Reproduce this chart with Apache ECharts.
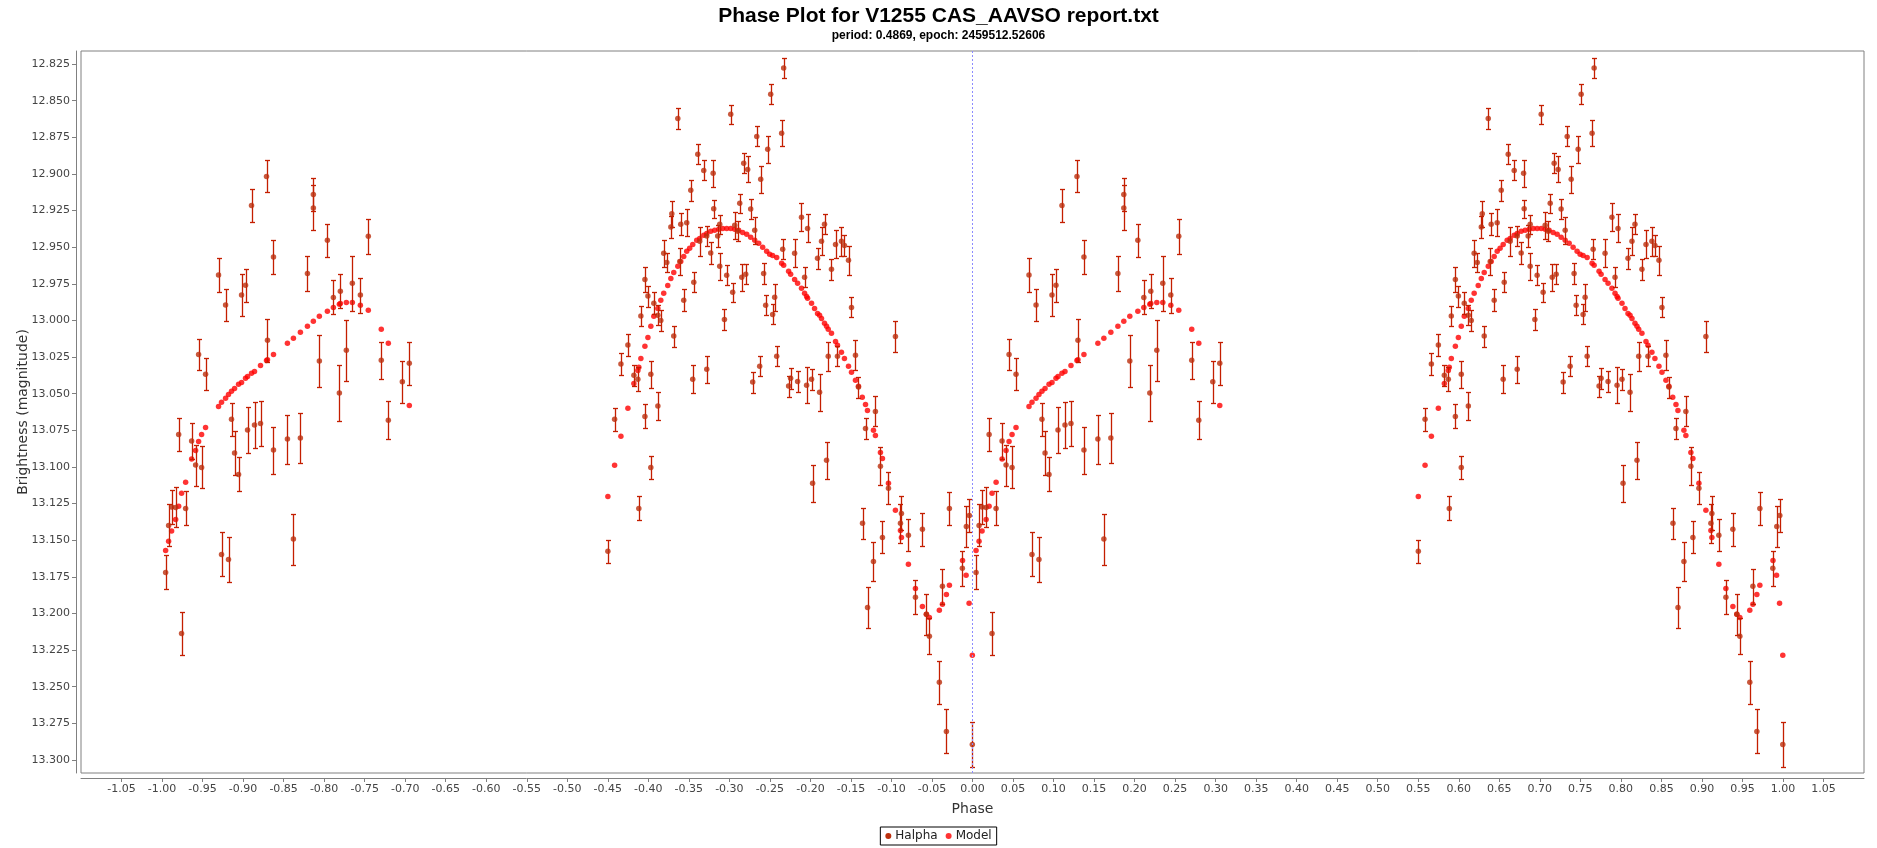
<!DOCTYPE html>
<html>
<head>
<meta charset="utf-8">
<script src="https://cdn.jsdelivr.net/npm/echarts@6/dist/echarts.min.js"></script>
<style>
html,body{margin:0;padding:0;background:#fff;}
#chart{width:1877px;height:848px;}
</style>
</head>
<body>
<div id="chart"></div>
<script>
// ---- Halpha observations (base phase in [0,1), magnitude, error) ----
const halphaPhase = [
0.0044,0.0081,0.0118,0.0168,0.0205,0.0241,0.0291,0.0365,0.0414,0.0451,0.0488,0.0537,
0.0697,0.0734,0.0784,0.0820,0.0857,0.0895,0.0944,0.0981,0.1030,0.1055,0.1104,0.1141,
0.1215,0.1289,0.1301,0.1375,0.1375,0.1547,0.1621,0.1707,0.1794,0.1867,0.1867,0.1941,
0.2040,0.2114,0.2188,0.2200,0.2274,0.2348,0.2447,0.2545,0.2705,0.2792,0.2965,0.3051,
0.5501,0.5584,0.5662,0.5748,0.5822,0.5871,0.5883,0.5908,0.5958,0.5958,0.5995,0.6031,
0.6031,0.6068,0.6118,0.6118,0.6154,0.6190,0.6228,0.6278,0.6290,0.6314,0.6364,0.6388,
0.6400,0.6437,0.6474,0.6524,0.6548,0.6561,0.6610,0.6634,0.6684,0.6721,0.6721,0.6770,
0.6800,0.6807,0.6856,0.6881,0.6881,0.6939,0.6967,0.7017,0.7041,0.7066,0.7103,0.7128,
0.7153,0.7177,0.7202,0.7226,0.7263,0.7288,0.7313,0.7338,0.7374,0.7387,0.7423,0.7448,
0.7473,0.7510,0.7534,0.7559,0.7584,0.7645,0.7658,0.7670,0.7731,0.7756,0.7805,0.7842,
0.7890,0.7928,0.7953,0.7965,0.8014,0.8027,0.8088,0.8113,0.8137,0.8174,0.8199,0.8220,
0.8260,0.8310,0.8334,0.8383,0.8420,0.8470,0.8507,0.8556,0.8593,0.8643,0.8680,0.8705,
0.8778,0.8802,0.8864,0.8889,0.8963,0.9049,0.9111,0.9123,0.9209,0.9296,0.9382,0.9431,
0.9468,0.9591,0.9629,0.9678,0.9715,0.9875,0.9924,0.9961,0.9998
];
const halphaMag = [
13.1720,13.1399,13.1274,13.1276,13.0778,13.2136,13.1283,13.0823,13.0987,13.0232,13.1003,13.0368,
12.9690,13.1597,12.9895,13.1631,13.0675,13.0905,13.1051,12.9827,12.9760,13.0748,12.9215,13.0714,
13.0703,12.9017,13.0136,12.9567,13.0885,13.0810,13.1492,13.0803,12.9679,12.9140,12.9232,13.0277,
12.9453,12.9843,13.0496,12.9800,13.0204,12.9747,12.9827,12.9426,13.0272,13.0682,13.0419,13.0293,
13.1576,13.0675,13.0298,13.0168,13.0375,13.0402,13.1283,12.9970,12.9720,13.0655,12.9834,13.0368,
13.1003,12.9883,13.0584,12.9965,13.0000,12.9542,12.9604,12.9363,12.9272,13.0107,12.8621,12.9597,
12.9344,12.9863,12.9333,12.9112,13.0402,12.9740,12.8866,12.9460,12.8976,13.0334,12.9424,12.9540,
12.8996,12.9238,12.9424,12.9344,12.9631,12.9993,12.9692,12.8593,12.9808,12.9351,12.9392,12.9201,
12.9706,12.8928,12.9685,12.8969,12.9240,13.0421,12.9385,12.8744,13.0313,12.9037,12.9679,12.9897,
12.8832,12.8457,12.9959,12.9842,13.0245,12.8723,12.9515,12.8277,13.0448,13.0395,12.9542,13.0416,
12.9296,12.9706,13.0443,12.9372,13.0402,13.1112,12.9576,13.0491,12.9460,12.9344,13.0955,13.0245,
12.9651,12.9481,13.0245,12.9460,12.9488,12.9590,12.9911,13.0238,13.0455,13.1385,13.0737,13.1959,
13.1645,13.0621,13.0996,13.1481,13.1146,13.0109,13.1385,13.1317,13.1467,13.1890,13.1426,13.2006,
13.2156,13.2470,13.1815,13.2805,13.1283,13.1692,13.1406,13.1331,13.2894
];
const halphaErr = [
0.0116,0.0143,0.0116,0.0137,0.0113,0.0147,0.0116,0.0120,0.0140,0.0107,0.0143,0.0110,
0.0113,0.0150,0.0108,0.0154,0.0114,0.0150,0.0116,0.0143,0.0113,0.0154,0.0110,0.0154,
0.0154,0.0109,0.0147,0.0113,0.0160,0.0167,0.0174,0.0170,0.0118,0.0110,0.0154,0.0177,
0.0113,0.0116,0.0191,0.0116,0.0208,0.0188,0.0120,0.0120,0.0126,0.0130,0.0143,0.0147,
0.0078,0.0078,0.0074,0.0075,0.0072,0.0082,0.0082,0.0070,0.0088,0.0082,0.0072,0.0092,
0.0079,0.0074,0.0094,0.0067,0.0070,0.0092,0.0067,0.0075,0.0089,0.0072,0.0072,0.0091,
0.0075,0.0075,0.0091,0.0072,0.0096,0.0068,0.0068,0.0098,0.0068,0.0092,0.0068,0.0072,
0.0092,0.0063,0.0073,0.0066,0.0092,0.0072,0.0067,0.0065,0.0065,0.0092,0.0068,0.0065,
0.0091,0.0068,0.0068,0.0089,0.0070,0.0072,0.0092,0.0068,0.0068,0.0090,0.0072,0.0068,
0.0091,0.0068,0.0068,0.0092,0.0068,0.0089,0.0069,0.0068,0.0072,0.0072,0.0096,0.0072,
0.0096,0.0068,0.0123,0.0096,0.0072,0.0126,0.0072,0.0126,0.0096,0.0068,0.0126,0.0099,
0.0072,0.0096,0.0068,0.0099,0.0073,0.0099,0.0068,0.0102,0.0072,0.0106,0.0072,0.0137,
0.0133,0.0102,0.0130,0.0109,0.0109,0.0106,0.0133,0.0116,0.0109,0.0116,0.0113,0.0140,
0.0123,0.0147,0.0119,0.0150,0.0113,0.0119,0.0140,0.0113,0.0156
];

// ---- Model points (base phase in [0,1), magnitude) ----
const modelPhase = [
0.0044,0.0081,0.0118,0.0168,0.0205,0.0241,0.0291,0.0365,0.0414,0.0451,0.0488,0.0537,
0.0697,0.0734,0.0784,0.0820,0.0857,0.0895,0.0944,0.0981,0.1030,0.1055,0.1104,0.1141,
0.1215,0.1289,0.1301,0.1375,0.1547,0.1621,0.1707,0.1794,0.1867,0.1941,0.2040,0.2114,
0.2188,0.2200,0.2274,0.2348,0.2447,0.2545,0.2705,0.2792,0.3051,
0.5501,0.5584,0.5662,0.5748,0.5822,0.5871,0.5883,0.5908,0.5958,0.5995,0.6031,0.6068,
0.6118,0.6154,0.6190,0.6240,0.6278,0.6314,0.6364,0.6400,0.6437,0.6474,0.6510,0.6548,
0.6597,0.6634,0.6684,0.6721,0.6770,0.6819,0.6869,0.6918,0.6967,0.7017,0.7066,0.7115,
0.7164,0.7214,0.7263,0.7313,0.7362,0.7411,0.7460,0.7497,0.7534,0.7584,0.7645,0.7670,
0.7731,0.7756,0.7805,0.7842,0.7890,0.7928,0.7953,0.7965,0.8014,0.8051,0.8088,0.8113,
0.8137,0.8174,0.8199,0.8220,0.8260,0.8310,0.8334,0.8383,0.8420,0.8470,0.8507,0.8556,
0.8593,0.8640,0.8680,0.8704,0.8778,0.8802,0.8864,0.8889,0.8963,0.9049,0.9111,0.9123,
0.9209,0.9296,0.9382,0.9431,0.9468,0.9591,0.9629,0.9678,0.9715,0.9877,0.9921,0.9958,
0.9998
];
const modelMag = [
13.1570,13.1508,13.1438,13.1358,13.1269,13.1180,13.1105,13.0946,13.0887,13.0826,13.0778,13.0730,
13.0587,13.0559,13.0532,13.0505,13.0484,13.0464,13.0436,13.0423,13.0395,13.0382,13.0361,13.0348,
13.0307,13.0273,13.0268,13.0232,13.0156,13.0122,13.0081,13.0040,13.0006,12.9972,12.9938,12.9911,
12.9890,12.9885,12.9877,12.9877,12.9897,12.9931,13.0061,13.0156,13.0580,
13.1201,13.0989,13.0791,13.0600,13.0430,13.0341,13.0320,13.0259,13.0177,13.0116,13.0040,12.9972,
12.9918,12.9863,12.9815,12.9761,12.9713,12.9672,12.9631,12.9597,12.9563,12.9528,12.9508,12.9481,
12.9453,12.9440,12.9419,12.9406,12.9392,12.9385,12.9378,12.9372,12.9372,12.9372,12.9378,12.9385,
12.9399,12.9412,12.9433,12.9453,12.9474,12.9501,12.9528,12.9549,12.9556,12.9570,12.9610,12.9624,
12.9665,12.9685,12.9720,12.9747,12.9781,12.9815,12.9836,12.9849,12.9883,12.9918,12.9952,12.9965,
12.9986,13.0020,13.0040,13.0061,13.0088,13.0143,13.0170,13.0218,13.0259,13.0313,13.0354,13.0409,
13.0450,13.0525,13.0573,13.0614,13.0750,13.0785,13.0901,13.0942,13.1112,13.1296,13.1433,13.1481,
13.1665,13.1829,13.1952,13.2006,13.2027,13.1979,13.1938,13.1870,13.1808,13.1638,13.1740,13.1931,
13.2286
];

// ---- Axis tick labels ----
const xTicks = [-1.05,-1.00,-0.95,-0.90,-0.85,-0.80,-0.75,-0.70,-0.65,-0.60,-0.55,-0.50,-0.45,-0.40,-0.35,-0.30,-0.25,-0.20,-0.15,-0.10,-0.05,
0.00,0.05,0.10,0.15,0.20,0.25,0.30,0.35,0.40,0.45,0.50,0.55,0.60,0.65,0.70,0.75,0.80,0.85,0.90,0.95,1.00,1.05];
const yTicks = [12.825,12.850,12.875,12.900,12.925,12.950,12.975,13.000,13.025,13.050,13.075,13.100,13.125,13.150,13.175,13.200,13.225,13.250,13.275,13.300];

const titleText = 'Phase Plot for V1255 CAS_AAVSO report.txt';
const subTitleText = 'period: 0.4869, epoch: 2459512.52606';

// Phase plot shows each observation at phase-1 and phase
const halphaData = [];
halphaPhase.forEach((p, i) => {
  halphaData.push([p - 1, halphaMag[i], halphaErr[i]]);
  halphaData.push([p, halphaMag[i], halphaErr[i]]);
});
const modelData = [];
modelPhase.forEach((p, i) => {
  modelData.push([p - 1, modelMag[i]]);
  modelData.push([p, modelMag[i]]);
});

const HALPHA_COLOR = '#bc300e';
const BAR_COLOR = '#c41e00';
const MODEL_COLOR = '#ff0000';
const TICK_FONT = 'DejaVu Sans';

const chart = echarts.init(document.getElementById('chart'), null, {renderer: 'canvas'});
chart.setOption({
  animation: false,
  backgroundColor: '#ffffff',
  title: {
    text: titleText,
    subtext: subTitleText,
    left: 'center',
    top: 1,
    itemGap: 3,
    textStyle: {fontFamily: 'Liberation Sans', fontWeight: 'bold', fontSize: 21, color: '#000'},
    subtextStyle: {fontFamily: 'Liberation Sans', fontWeight: 'bold', fontSize: 12, color: '#000'}
  },
  legend: {
    data: ['Halpha', 'Model'],
    bottom: 3,
    left: 'center',
    icon: 'circle',
    itemWidth: 6,
    itemHeight: 6,
    itemGap: 8,
    padding: [3, 5],
    borderColor: '#000',
    borderWidth: 1,
    textStyle: {fontFamily: TICK_FONT, fontSize: 12, color: '#222', padding: [0, 0, 0, -1]}
  },
  grid: {
    left: 81, right: 13, top: 51, bottom: 75,
    show: true, borderColor: '#808080', borderWidth: 1, backgroundColor: '#fff'
  },
  xAxis: {
    type: 'value',
    min: -1.1, max: 1.1,
    offset: 5,
    name: 'Phase',
    nameLocation: 'middle',
    nameGap: 24,
    nameMoveOverlap: false,
    nameTextStyle: {fontFamily: TICK_FONT, fontSize: 14, color: '#333'},
    axisLine: {show: true, onZero: false, lineStyle: {color: '#808080'}},
    axisTick: {show: true, length: 4, lineStyle: {color: '#808080'}, customValues: xTicks},
    axisLabel: {customValues: xTicks, fontFamily: TICK_FONT, fontSize: 11, color: '#444', margin: 6,
      formatter: v => v.toFixed(2)},
    splitLine: {show: false}
  },
  yAxis: {
    type: 'value',
    inverse: true,
    min: 12.8161, max: 13.3089,
    offset: 5,
    name: 'Brightness (magnitude)',
    nameLocation: 'middle',
    nameGap: 46,
    nameMoveOverlap: false,
    nameTextStyle: {fontFamily: TICK_FONT, fontSize: 14, color: '#333'},
    axisLine: {show: true, onZero: false, lineStyle: {color: '#808080'}},
    axisTick: {show: true, length: 4, lineStyle: {color: '#808080'}, customValues: yTicks},
    axisLabel: {customValues: yTicks, fontFamily: TICK_FONT, fontSize: 11, color: '#444', margin: 6,
      formatter: v => v.toFixed(3)},
    splitLine: {show: false}
  },
  series: [
    {
      name: 'Model',
      type: 'scatter',
      data: modelData,
      symbol: 'circle',
      symbolSize: 5.5,
      itemStyle: {color: MODEL_COLOR},
      z: 2,
      markLine: {
        silent: true,
        symbol: ['none', 'none'],
        label: {show: false},
        lineStyle: {color: '#8c8cff', type: [2, 2], width: 1},
        data: [{xAxis: 0}]
      }
    },
    {
      name: 'Halpha',
      type: 'custom',
      data: halphaData,
      z: 3,
      renderItem: function (params, api) {
        const x = api.value(0), y = api.value(1), e = api.value(2);
        const top = api.coord([x, y - e]);
        const bot = api.coord([x, y + e]);
        const cx = Math.round(top[0]) + 0.5;
        const t = Math.round(top[1]) + 0.5, b = Math.round(bot[1]) + 0.5;
        const w = 2.5;
        const st = {stroke: BAR_COLOR, lineWidth: 1.3};
        return {
          type: 'group',
          children: [
            {type: 'line', shape: {x1: cx, y1: t, x2: cx, y2: b}, style: st},
            {type: 'line', shape: {x1: cx - w, y1: t, x2: cx + w, y2: t}, style: st},
            {type: 'line', shape: {x1: cx - w, y1: b, x2: cx + w, y2: b}, style: st}
          ]
        };
      },
      itemStyle: {color: HALPHA_COLOR},
      encode: {x: 0, y: 1},
      silent: true
    },
    {
      name: 'Halpha',
      type: 'scatter',
      data: halphaData.map(d => [d[0], d[1]]),
      symbol: 'circle',
      symbolSize: 5.5,
      itemStyle: {color: HALPHA_COLOR},
      z: 4
    }
  ]
});
</script>
</body>
</html>
